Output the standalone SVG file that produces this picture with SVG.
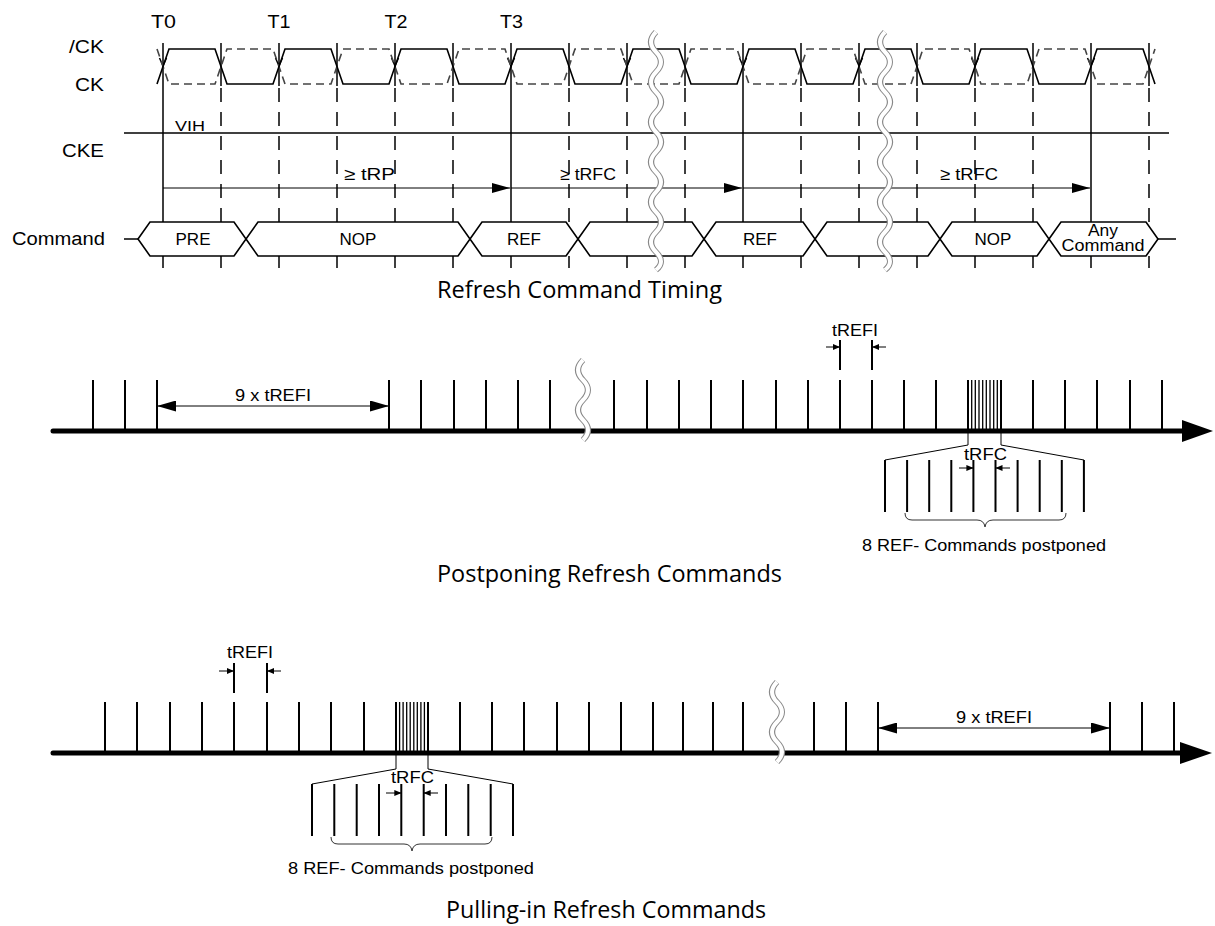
<svg xmlns="http://www.w3.org/2000/svg" width="1215" height="926" viewBox="0 0 1215 926">
<defs>
<style>
text { font-family: "Liberation Sans", Arial, sans-serif; fill:#000; }
.lb { font-size:18px; }
.sm { font-size:17px; }
.xs { font-size:15px; }
.cap { font-family:"Open Sans","Noto Sans",sans-serif; font-size:23px; }
.wave { fill:none; stroke:#000; stroke-width:1.6; }
.wave2 { fill:none; stroke:#444; stroke-width:1.6; stroke-dasharray:8 5; }
.vs { fill:none; stroke:#000; stroke-width:1.5; }
.vd { fill:none; stroke:#000; stroke-width:1.5; stroke-dasharray:14 10; }
.bus { fill:#fff; stroke:#000; stroke-width:1.6; }
.arr { fill:none; stroke:#000; stroke-width:1; }
.axis { stroke:#000; stroke-width:5; stroke-linecap:round; }
.tick { fill:none; stroke:#000; stroke-width:2; }
.thin { fill:none; stroke:#000; stroke-width:1; }
.cl { fill:none; stroke:#000; stroke-width:1.3; }
.brace { fill:none; stroke:#333; stroke-width:1; }
.brk1 { fill:none; stroke:#888; stroke-width:6; }
.brk2 { fill:none; stroke:#fff; stroke-width:4; }
</style>
<marker id="ah" markerUnits="userSpaceOnUse" markerWidth="18" markerHeight="10" refX="18" refY="5" orient="auto-start-reverse">
<path d="M0,0L18,5L0,10z" fill="#000"/>
</marker>
<marker id="ah2" markerUnits="userSpaceOnUse" markerWidth="19" markerHeight="11" refX="19" refY="5.5" orient="auto-start-reverse">
<path d="M0,0L19,5.5L0,11z" fill="#000"/>
</marker>
<marker id="ahs" markerUnits="userSpaceOnUse" markerWidth="7" markerHeight="6" refX="7" refY="3" orient="auto">
<path d="M0,0L7,3L0,6z" fill="#000"/>
</marker>
<path id="brkTop" d="M0,0 q-10,10 0,20 t0,20 t0,20 t0,20 t0,20 t0,20 t0,20 t0,20 t0,20 t0,20 t0,20 t0,18"/>
<path id="brkSm" d="M0,0 q-10,10 0,20 t0,20 t0,20 t0,20"/>
</defs>
<rect width="1215" height="926" fill="#fff"/>

<!-- ============ Refresh Command Timing ============ -->
<g id="timing-labels">
<text class="lb" x="163.5" y="28" text-anchor="middle" textLength="25" lengthAdjust="spacingAndGlyphs">T0</text>
<text class="lb" x="279" y="28" text-anchor="middle" textLength="23" lengthAdjust="spacingAndGlyphs">T1</text>
<text class="lb" x="396" y="28" text-anchor="middle" textLength="23" lengthAdjust="spacingAndGlyphs">T2</text>
<text class="lb" x="511.5" y="28" text-anchor="middle" textLength="23" lengthAdjust="spacingAndGlyphs">T3</text>
<text class="lb" x="104" y="53" text-anchor="end" textLength="35" lengthAdjust="spacingAndGlyphs">/CK</text>
<text class="lb" x="104" y="91" text-anchor="end" textLength="29" lengthAdjust="spacingAndGlyphs">CK</text>
<text class="lb" x="104" y="157" text-anchor="end" textLength="42" lengthAdjust="spacingAndGlyphs">CKE</text>
<text class="lb" x="105" y="245" text-anchor="end" textLength="93" lengthAdjust="spacingAndGlyphs">Command</text>
</g>

<g id="grid-lines">
<path class="vs" d="M163,43V268 M511,43V268 M743,43V268 M1091,43V268"/>
<path class="vs" d="M221,43V86 M279,43V86 M337,43V86 M395,43V86 M453,43V86 M569,43V86 M627,43V86 M685,43V86 M801,43V86 M859,43V86 M917,43V86 M975,43V86 M1033,43V86 M1149,43V86"/>
<path class="vd" d="M221,88V268 M279,88V268 M337,88V268 M395,88V268 M453,88V268 M569,88V268 M627,88V268 M685,88V268 M801,88V268 M859,88V268 M917,88V268 M975,88V268 M1033,88V268 M1149,88V268"/>
<path class="vs" stroke-width="1.2" d="M159.5,58L163,66L166.5,58 M275.5,58L279,66L282.5,58 M391.5,58L395,66L398.5,58 M507.5,58L511,66L514.5,58 M623.5,58L627,66L630.5,58 M739.5,58L743,66L746.5,58 M855.5,58L859,66L862.5,58 M971.5,58L975,66L978.5,58 M1087.5,58L1091,66L1094.5,58"/>
</g>

<g id="clock">
<path class="wave2" d="M157,49 L169,84 L215,84 L227,49 L273,49 L285,84 L331,84 L343,49 L389,49 L401,84 L447,84 L459,49 L505,49 L517,84 L563,84 L575,49 L621,49 L633,84 L679,84 L691,49 L737,49 L749,84 L795,84 L807,49 L853,49 L865,84 L911,84 L923,49 L969,49 L981,84 L1027,84 L1039,49 L1085,49 L1097,84 L1143,84 L1155,49"/>
<path class="wave" d="M157,84 L169,49 L215,49 L227,84 L273,84 L285,49 L331,49 L343,84 L389,84 L401,49 L447,49 L459,84 L505,84 L517,49 L563,49 L575,84 L621,84 L633,49 L679,49 L691,84 L737,84 L749,49 L795,49 L807,84 L853,84 L865,49 L911,49 L923,84 L969,84 L981,49 L1027,49 L1039,84 L1085,84 L1097,49 L1143,49 L1155,84"/>
</g>

<g id="cke">
<path class="vs" d="M124,133H1169"/>
<text class="xs" x="175" y="131" textLength="30" lengthAdjust="spacingAndGlyphs">VIH</text>
</g>

<g id="timing-arrows">
<path class="arr" d="M163,188H510" marker-end="url(#ah)"/>
<path class="arr" d="M511,188H742" marker-end="url(#ah)"/>
<path class="arr" d="M743,188H1090" marker-end="url(#ah)"/>
<text class="sm" x="369.5" y="180" text-anchor="middle" textLength="51" lengthAdjust="spacingAndGlyphs">≥ tRP</text>
<text class="sm" x="588" y="180" text-anchor="middle" textLength="56" lengthAdjust="spacingAndGlyphs">≥ tRFC</text>
<text class="sm" x="969" y="180" text-anchor="middle" textLength="58" lengthAdjust="spacingAndGlyphs">≥ tRFC</text>
</g>

<g id="command-bus">
<path class="vs" d="M124,239H138 M1158,239H1176"/>
<polygon class="bus" points="138,239 150,222 234,222 246,239 234,256 150,256"/>
<polygon class="bus" points="246,239 258,222 458,222 470,239 458,256 258,256"/>
<polygon class="bus" points="470,239 482,222 566,222 578,239 566,256 482,256"/>
<polygon class="bus" points="578,239 590,222 692,222 704,239 692,256 590,256"/>
<polygon class="bus" points="704,239 716,222 803,222 815,239 803,256 716,256"/>
<polygon class="bus" points="815,239 827,222 928,222 940,239 928,256 827,256"/>
<polygon class="bus" points="940,239 952,222 1037,222 1049,239 1037,256 952,256"/>
<polygon class="bus" points="1049,239 1061,222 1146,222 1158,239 1146,256 1061,256"/>
<text class="sm" x="193" y="245" text-anchor="middle">PRE</text>
<text class="sm" x="358" y="245" text-anchor="middle">NOP</text>
<text class="sm" x="524" y="245" text-anchor="middle">REF</text>
<text class="sm" x="760" y="245" text-anchor="middle">REF</text>
<text class="sm" x="993" y="245" text-anchor="middle">NOP</text>
<text x="1103" y="236" text-anchor="middle" font-size="16" textLength="30" lengthAdjust="spacingAndGlyphs">Any</text>
<text x="1103" y="251" text-anchor="middle" font-size="16" textLength="83" lengthAdjust="spacingAndGlyphs">Command</text>
</g>

<g id="breaks-top">
<use href="#brkTop" class="brk1" x="656" y="32"/>
<use href="#brkTop" class="brk2" x="656" y="32"/>
<use href="#brkTop" class="brk1" x="885" y="32"/>
<use href="#brkTop" class="brk2" x="885" y="32"/>
</g>

<text id="caption-1" class="cap" x="437" y="298" textLength="285" lengthAdjust="spacingAndGlyphs">Refresh Command Timing</text>

<!-- ============ Postponing ============ -->
<g id="postpone-axis">
<line class="axis" x1="53" y1="431" x2="1185" y2="431"/>
<polygon points="1182,420 1213,431 1182,442" fill="#000"/>
<path class="tick" d="M93,380V431 M125,380V431 M157,380V431 M389,380V431 M421,380V431 M454,380V431 M486,380V431 M518,380V431 M550,380V431 M614,380V431 M647,380V431 M679,380V431 M711,380V431 M743,380V431 M776,380V431 M808,380V431 M840,380V431 M872,380V431 M904,380V431 M936,380V431 M968,380V431 M1001,380V431 M1033,380V431 M1065,380V431 M1097,380V431 M1130,380V431 M1162,380V431"/>
<path class="cl" d="M971.7,380V431 M975.3,380V431 M979,380V431 M982.7,380V431 M986.3,380V431 M990,380V431 M993.7,380V431 M997.3,380V431"/>
<use href="#brkSm" class="brk1" x="583" y="360"/>
<use href="#brkSm" class="brk2" x="583" y="360"/>
</g>

<g id="postpone-9trefi">
<path class="arr" d="M157,406H389" marker-start="url(#ah2)" marker-end="url(#ah2)"/>
<text class="sm" x="273" y="401" text-anchor="middle" textLength="76" lengthAdjust="spacingAndGlyphs">9 x tREFI</text>
</g>

<g id="postpone-trefi">
<path class="tick" d="M840,340V370 M872,340V370"/>
<path class="arr" d="M826,347H840" marker-end="url(#ahs)"/>
<path class="arr" d="M886,347H872" marker-end="url(#ahs)"/>
<text class="sm" x="855" y="336" text-anchor="middle" textLength="46" lengthAdjust="spacingAndGlyphs">tREFI</text>
</g>

<g id="postpone-expand">
<path class="thin" stroke-width="1.2" d="M968,431V445L885,460 M1001,431V445L1084,460"/>
<path class="tick" d="M885,460V512 M907.1,460V512 M929.2,460V512 M951.3,460V512 M973.4,460V512 M995.5,460V512 M1017.6,460V512 M1039.7,460V512 M1061.8,460V512 M1083.9,460V512"/>
<text class="sm" x="985.5" y="460" text-anchor="middle" textLength="43" lengthAdjust="spacingAndGlyphs">tRFC</text>
<path class="arr" d="M959,468H973.4" marker-end="url(#ahs)"/>
<path class="arr" d="M1010,468H995.5" marker-end="url(#ahs)"/>
<path class="brace" d="M905,513 Q905,520 912,520 L977,520 Q984,520 985,527 Q986,520 993,520 L1059,520 Q1066,520 1066,513"/>
<text class="sm" x="984" y="551" text-anchor="middle" textLength="244" lengthAdjust="spacingAndGlyphs">8 REF- Commands postponed</text>
</g>

<text id="caption-2" class="cap" x="437" y="582" textLength="345" lengthAdjust="spacingAndGlyphs">Postponing Refresh Commands</text>

<!-- ============ Pulling-in ============ -->
<g id="pullin-axis">
<line class="axis" x1="53" y1="753" x2="1183" y2="753"/>
<polygon points="1180,742 1212,753 1180,764" fill="#000"/>
<path class="tick" d="M105,702V753 M137,702V753 M170,702V753 M202,702V753 M234,702V753 M267,702V753 M299,702V753 M331,702V753 M364,702V753 M396,702V753 M428,702V753 M460,702V753 M492,702V753 M524,702V753 M557,702V753 M589,702V753 M621,702V753 M653,702V753 M683,702V753 M713,702V753 M743,702V753 M814,702V753 M846,702V753 M878,702V753 M1110,702V753 M1142,702V753 M1174,702V753"/>
<path class="cl" d="M399.6,702V753 M403.1,702V753 M406.7,702V753 M410.2,702V753 M413.8,702V753 M417.3,702V753 M420.9,702V753 M424.4,702V753"/>
<use href="#brkSm" class="brk1" x="777" y="682"/>
<use href="#brkSm" class="brk2" x="777" y="682"/>
</g>

<g id="pullin-9trefi">
<path class="arr" d="M878,728H1110" marker-start="url(#ah2)" marker-end="url(#ah2)"/>
<text class="sm" x="994" y="723" text-anchor="middle" textLength="76" lengthAdjust="spacingAndGlyphs">9 x tREFI</text>
</g>

<g id="pullin-trefi">
<path class="tick" d="M234,663V693 M267,663V693"/>
<path class="arr" d="M219,671H234" marker-end="url(#ahs)"/>
<path class="arr" d="M281,671H267" marker-end="url(#ahs)"/>
<text class="sm" x="250" y="658" text-anchor="middle" textLength="46" lengthAdjust="spacingAndGlyphs">tREFI</text>
</g>

<g id="pullin-expand">
<path class="thin" stroke-width="1.2" d="M396,753V769L312,784 M428,753V769L513,784"/>
<path class="tick" d="M312,784V836 M334.3,784V836 M356.7,784V836 M379,784V836 M401.3,784V836 M423.7,784V836 M446,784V836 M468.3,784V836 M490.7,784V836 M513,784V836"/>
<text class="sm" x="412.5" y="783" text-anchor="middle" textLength="43" lengthAdjust="spacingAndGlyphs">tRFC</text>
<path class="arr" d="M386,793H401.3" marker-end="url(#ahs)"/>
<path class="arr" d="M438,793H423.7" marker-end="url(#ahs)"/>
<path class="brace" d="M331,837 Q331,844 338,844 L404,844 Q411,844 412,851 Q413,844 420,844 L485,844 Q492,844 492,837"/>
<text class="sm" x="411" y="874" text-anchor="middle" textLength="246" lengthAdjust="spacingAndGlyphs">8 REF- Commands postponed</text>
</g>

<text id="caption-3" class="cap" x="446" y="918" textLength="320" lengthAdjust="spacingAndGlyphs">Pulling-in Refresh Commands</text>
</svg>
